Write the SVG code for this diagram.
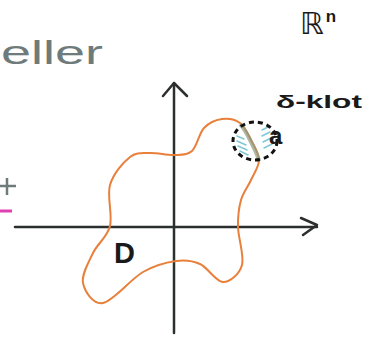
<svg xmlns="http://www.w3.org/2000/svg" width="365" height="337" viewBox="0 0 365 337">
<style>
.axis{stroke:#2b302f;stroke-width:2.5;fill:none;stroke-linecap:round;stroke-linejoin:round}
.curve{stroke:#e8803c;stroke-width:2;fill:none}
.hand{font-family:"Liberation Sans",Arial,sans-serif;fill:#1a1a1a}
.gray{font-family:"Liberation Sans",Arial,sans-serif;fill:#6f7b7a}
.hatch{stroke:#7ec8d8;stroke-width:1.5;stroke-linecap:round}
</style>
<rect width="365" height="337" fill="#ffffff"/>
<g id="label-eller"><text class="gray" x="1" y="64" font-size="33" textLength="102" lengthAdjust="spacingAndGlyphs">eller</text></g>
<g id="label-t"><path d="M0,186 H16 M7,178 V195" stroke="#6f7b7a" stroke-width="2.5" fill="none"/></g>
<g id="pink-dash"><path d="M0,211 H12" stroke="#e040b0" stroke-width="3"/></g>
<g id="label-Rn"><text x="300" y="34" font-size="30" font-family="'DejaVu Sans',sans-serif" fill="#1a1a1a">ℝ<tspan font-family="'Liberation Sans',sans-serif" font-weight="bold" font-size="17" dy="-12" dx="2">n</tspan></text></g>
<g id="connectors">
<path class="axis" d="M15,227 H317"/>
<path class="axis" d="M301,218 L317,225 L303,235"/>
<path class="axis" d="M174,333 V83"/>
<path class="axis" d="M163,96 L174,83 L187,96"/>
</g>
<g id="domain-D">
<path class="curve" d="M110,226 C112.8,214.7 106.7,196.5 110,185 C113.3,173.5 123.3,162.3 130,157 C136.7,151.7 142.7,153.3 150,153 C157.3,152.7 167,155.3 174,155 C181,154.7 187,155.5 192,151 C197,146.5 199,133.3 204,128 C209,122.7 216,119.8 222,119 C228,118.2 235.2,119.5 240,123 C244.8,126.5 247.8,133.8 251,140 C254.2,146.2 259,153.3 259,160 C259,166.7 254,173.3 251,180 C248,186.7 243.2,192.2 241,200 C238.8,207.8 237.8,216.2 238,227 C238.2,237.8 244.5,255.8 242,265 C239.5,274.2 230,282.2 223,282 C216,281.8 207.8,267.5 200,264 C192.2,260.5 185.5,259.7 176,261 C166.5,262.3 155.2,265 143,272 C130.8,279 113,301.2 103,303 C93,304.8 84.7,291.3 83,283 C81.3,274.7 88.5,262.5 93,253 C97.5,243.5 107.2,237.3 110,226 Z"/>
<text class="hand" x="114" y="263" font-size="29" font-weight="bold">D</text>
</g>
<g id="delta-ball">
<path d="M240,124 C246,130 250,140 253,146 C256,152 258,156 259,161" stroke="#8a9a80" stroke-width="4" fill="none" opacity="0.7"/>
<g class="hatch">
<path d="M237,136 L244,139"/><path d="M237,141 L246,145"/><path d="M238,146 L247,150"/><path d="M240,151 L248,155"/>
<path d="M262,130 L268,127"/><path d="M262,136 L270,132"/><path d="M263,142 L271,138"/><path d="M264,148 L272,144"/>
</g>
<ellipse cx="255" cy="141" rx="22" ry="19" fill="none" stroke="#111" stroke-width="3" stroke-dasharray="5 4"/>
<text class="hand" x="269" y="144" font-size="24" font-weight="bold">a</text>
</g>
<g id="label-dklot"><text class="hand" x="276" y="108" font-size="18" font-weight="bold" textLength="86" lengthAdjust="spacingAndGlyphs">δ-klot</text></g>
</svg>
